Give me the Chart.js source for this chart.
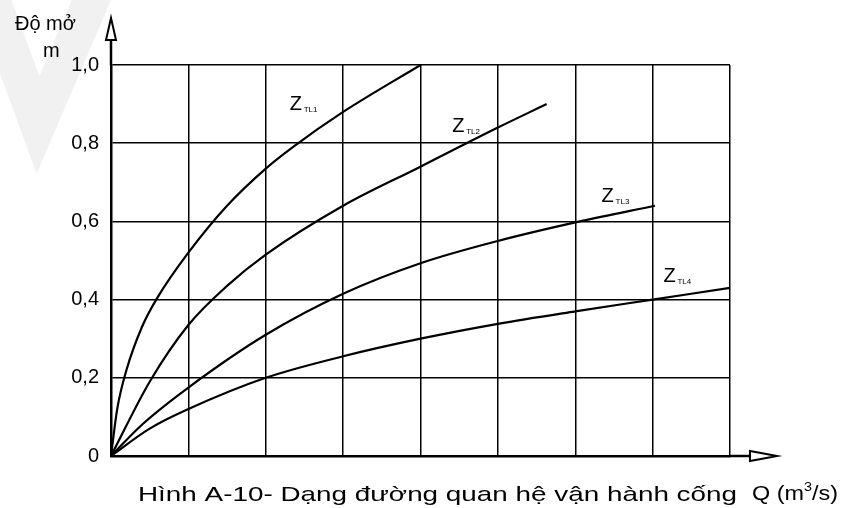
<!DOCTYPE html>
<html>
<head>
<meta charset="utf-8">
<script src="https://cdn.jsdelivr.net/npm/chart.js@4"></script>
<style>
  html, body { margin: 0; padding: 0; background: #fff; }
  #wrap { width: 845px; height: 508px; position: relative; }
</style>
</head>
<body>
<div id="wrap"><canvas id="gateChart"></canvas></div>
<script>
// Q in grid units (8 columns), opening m from 0 to 1
const seriesNames = ["TL1", "TL2", "TL3", "TL4"];

const q1 = [0, 0.08, 0.2, 0.4, 0.6, 1, 1.5, 2, 2.35, 3, 4];
const m1 = [0, 0.12, 0.22, 0.33, 0.405, 0.52, 0.64, 0.735, 0.79, 0.88, 1.0];

const q2 = [0, 0.5, 1, 1.5, 2, 3, 4, 5, 5.63];
const m2 = [0, 0.19, 0.335, 0.435, 0.515, 0.64, 0.74, 0.84, 0.9];

const q3 = [0, 0.4, 1, 2, 3, 4, 5, 6.06, 7.03];
const m3 = [0, 0.08, 0.175, 0.31, 0.415, 0.493, 0.55, 0.6, 0.64];

const q4 = [0, 0.5, 1, 2, 3, 4, 5, 6, 7, 8];
const m4 = [0, 0.07, 0.12, 0.2, 0.255, 0.3, 0.338, 0.37, 0.4, 0.43];

const yTicks = ["0", "0,2", "0,4", "0,6", "0,8", "1,0"];

const toPoints = (xs, ys) => xs.map((x, i) => ({ x: x, y: ys[i] }));

const font = "'Liberation Sans', Arial, sans-serif";

function fitText(ctx, text, x, y, size, width) {
    ctx.font = size + "px " + font;
    const w = ctx.measureText(text).width;
    ctx.save();
    ctx.translate(x, y);
    ctx.scale(width / w, 1);
    ctx.fillText(text, 0, 0);
    ctx.restore();
}

// "Q (m3/s)" with a raised 3, squeezed to a given width
function drawUnit(ctx, x, y, width) {
    const parts = [["Q (m", 21, 0], ["3", 13, -9], ["/s)", 21, 0]];
    let total = 0;
    parts.forEach(p => { ctx.font = p[1] + "px " + font; total += ctx.measureText(p[0]).width; });
    ctx.save();
    ctx.translate(x, y);
    ctx.scale(width / total, 1);
    let cx = 0;
    parts.forEach(p => {
        ctx.font = p[1] + "px " + font;
        ctx.fillText(p[0], cx, p[2]);
        cx += ctx.measureText(p[0]).width;
    });
    ctx.restore();
}

const extras = {
    id: "extras",
    beforeDraw(chart) {
        const ctx = chart.ctx;
        ctx.save();
        ctx.fillStyle = "#fff";
        ctx.fillRect(0, 0, chart.width, chart.height);
        // faint watermark
        ctx.strokeStyle = "#f1f1f1";
        ctx.lineWidth = 36;
        ctx.lineJoin = "miter";
        ctx.beginPath();
        ctx.moveTo(-15, -20);
        ctx.lineTo(38, 125);
        ctx.lineTo(100, -20);
        ctx.stroke();
        ctx.restore();
    },
    afterDraw(chart) {
        const ctx = chart.ctx;
        const xs = chart.scales.x, ys = chart.scales.y;
        const left = xs.left, bottom = ys.bottom, top = ys.top, right = xs.right;
        ctx.save();
        ctx.strokeStyle = "#000";
        ctx.fillStyle = "#000";

        // axis extensions with hollow arrows
        ctx.lineWidth = 2.5;
        ctx.beginPath();
        ctx.moveTo(left, top);
        ctx.lineTo(left, 40);
        ctx.moveTo(right, bottom);
        ctx.lineTo(750, bottom);
        ctx.stroke();
        ctx.lineWidth = 2;
        ctx.beginPath();
        ctx.moveTo(left, 18);
        ctx.lineTo(left - 5, 40);
        ctx.lineTo(left + 5, 40);
        ctx.closePath();
        ctx.moveTo(777, bottom);
        ctx.lineTo(750, bottom - 5);
        ctx.lineTo(750, bottom + 5);
        ctx.closePath();
        ctx.stroke();

        // curve labels
        const zPos = [[2.31, 0.885], [4.41, 0.829], [6.34, 0.65], [7.14, 0.445]];
        ctx.textBaseline = "alphabetic";
        ctx.textAlign = "left";
        zPos.forEach((p, i) => {
            const px = xs.getPixelForValue(p[0]);
            const py = ys.getPixelForValue(p[1]);
            ctx.font = "20px " + font;
            ctx.fillText("Z", px, py);
            ctx.font = "8px " + font;
            ctx.fillText(seriesNames[i], px + 14, py + 2);
        });

        // axis titles and caption
        ctx.font = "20px " + font;
        ctx.fillText("Độ mở", 15, 30);
        ctx.fillText("m", 43, 57);
        fitText(ctx, "Hình A-10- Dạng đường quan hệ vận hành cống", 138, 501, 21, 599);
        drawUnit(ctx, 752, 500, 86);
        ctx.restore();
    }
};

const lineStyle = {
    borderColor: "#000",
    borderWidth: 2.2,
    pointRadius: 0,
    fill: false,
    cubicInterpolationMode: "monotone"
};

new Chart(document.getElementById("gateChart").getContext("2d"), {
    type: "line",
    data: {
        datasets: [
            { label: "Z TL1", data: toPoints(q1, m1), ...lineStyle },
            { label: "Z TL2", data: toPoints(q2, m2), ...lineStyle },
            { label: "Z TL3", data: toPoints(q3, m3), ...lineStyle },
            { label: "Z TL4", data: toPoints(q4, m4), ...lineStyle }
        ]
    },
    options: {
        responsive: true,
        maintainAspectRatio: false,
        animation: false,
        layout: { padding: { left: 0, right: 115, top: 65, bottom: 0 } },
        plugins: { legend: { display: false }, tooltip: { enabled: false } },
        scales: {
            x: {
                type: "linear",
                min: 0,
                max: 8,
                ticks: { display: false, stepSize: 1 },
                grid: { color: "#000", lineWidth: 1.5, drawTicks: false },
                border: { color: "#000", width: 2.5 },
                afterFit: s => { s.height = 52; }
            },
            y: {
                min: 0,
                max: 1,
                ticks: {
                    stepSize: 0.2,
                    padding: 12,
                    color: "#000",
                    font: { size: 20, family: font },
                    callback: (v, i) => yTicks[i]
                },
                grid: { color: "#000", lineWidth: 1.5, drawTicks: false },
                border: { color: "#000", width: 2.5 },
                afterFit: s => { s.width = 111; }
            }
        }
    },
    plugins: [extras]
});
</script>
</body>
</html>
